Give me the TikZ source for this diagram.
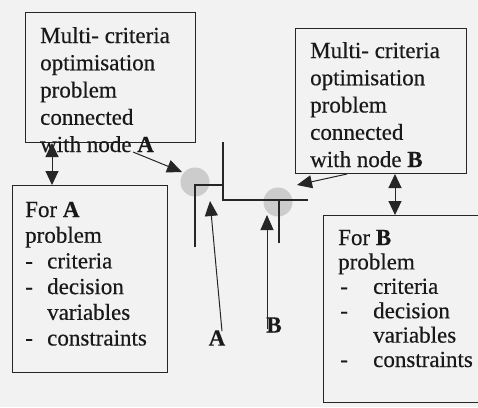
\documentclass[tikz,border=0pt]{standalone}
\usepackage{fontspec}
\setmainfont{Liberation Serif}[FakeBold=0.4]
\usetikzlibrary{arrows.meta}
\begin{document}
\begin{tikzpicture}[x=1pt,y=-1pt,
  box/.style={draw=black!85,line width=1pt,rectangle,inner sep=0pt},
  txt/.style={anchor=base west,inner sep=0pt,font=\fontsize{23}{27}\selectfont,text=black!90},
  lbl/.style={inner sep=0pt,font=\fontsize{23}{27}\selectfont\bfseries,text=black!90},
  arr/.style={draw=black!85,line width=1pt,-{Triangle[length=15pt,width=13pt]}},
  dbl/.style={draw=black!85,line width=1pt,{Triangle[length=14pt,width=13pt]}-{Triangle[length=14pt,width=13pt]}},
  thick line/.style={draw=black!85,line width=2.4pt},
  spot/.style={circle,fill=gray!40,draw=none,minimum size=29pt,inner sep=0pt}]
\fill[white!95!black] (0,0) rectangle (478,407);
\useasboundingbox (0,0) rectangle (478,407);
\clip (0,0) rectangle (478,407);
% spots
\node[spot] (cA) at (195,182) {};
\node[spot] (cB) at (278,202) {};
% junction lines
\coordinate (j1) at (223,142);
\coordinate (j2) at (223,200);
\coordinate (j3) at (308,200);
\coordinate (k1) at (195,247);
\coordinate (k2) at (195,185);
\coordinate (k3) at (223,185);
\coordinate (t1) at (279,200);
\coordinate (t2) at (279,243);
\draw[thick line] (j1) -- (j2) -- (j3);
\draw[thick line] (k1) -- (k2) -- (k3);
\draw[thick line] (t1) -- (t2);
% boxes
\node[box,anchor=north west,minimum width=170pt,minimum height=130pt] (bAt) at (25,12) {};
\node[box,anchor=north west,minimum width=171pt,minimum height=145pt] (bBt) at (295,28) {};
\node[box,anchor=north west,minimum width=155pt,minimum height=187pt] (bAb) at (12,185) {};
\node[box,anchor=north west,minimum width=170pt,minimum height=187pt] (bBb) at (323,215) {};
% texts
\foreach \t [count=\i from 0] in {Multi- criteria,optimisation,problem,connected,{with node \textbf{A}}}
  \node[txt] (tA\i) at (40,43+27.25*\i) {\t};
\foreach \t [count=\i from 0] in {Multi- criteria,optimisation,problem,connected,{with node \textbf{B}}}
  \node[txt] (tB\i) at (310,58+27.25*\i) {\t};
\foreach \t [count=\i from 0] in {{For \textbf{A}},problem,{\makebox[22pt][l]{-}criteria},{\makebox[22pt][l]{-}decision},{\hspace*{22pt}variables},{\makebox[22pt][l]{-}constraints}}
  \node[txt] (fA\i) at (25,217+25.7*\i) {\t};
\foreach \t [count=\i from 0] in {{For \textbf{B}},problem}
  \node[txt] (fB\i) at (338,245+24.4*\i) {\t};
\foreach \t [count=\i from 2] in {{\makebox[33pt][l]{-}criteria},{\makebox[33pt][l]{-}decision},{\hspace*{33pt}variables},{\makebox[33pt][l]{-}constraints}}
  \node[txt] (fB\i) at (340,245+24.4*\i) {\t};
% labels
\node[lbl] (lA) at (217,338) {A};
\node[lbl] (lB) at (274,325) {B};
% connectors
\draw[dbl] ([xshift=27pt]bAt.south west) -- ([xshift=40pt]bAb.north west);
\draw[dbl] ([xshift=100pt]bBt.south west) -- ([xshift=72pt]bBb.north west);
\coordinate (sA) at (133,152);
\coordinate (eA) at (182,172);
\draw[arr] (sA) -- (eA);
\coordinate (eB) at (297,185);
\draw[arr] ([xshift=52pt]bBt.south west) -- (eB);
\coordinate (pA) at (210,201);
\draw[arr] ([xshift=5pt,yshift=-1pt]lA.north) -- (pA);
\coordinate (pB) at (267,215);
\draw[arr] ([xshift=-7pt,yshift=-12pt]lB.north) -- (pB);
\end{tikzpicture}
\end{document}
